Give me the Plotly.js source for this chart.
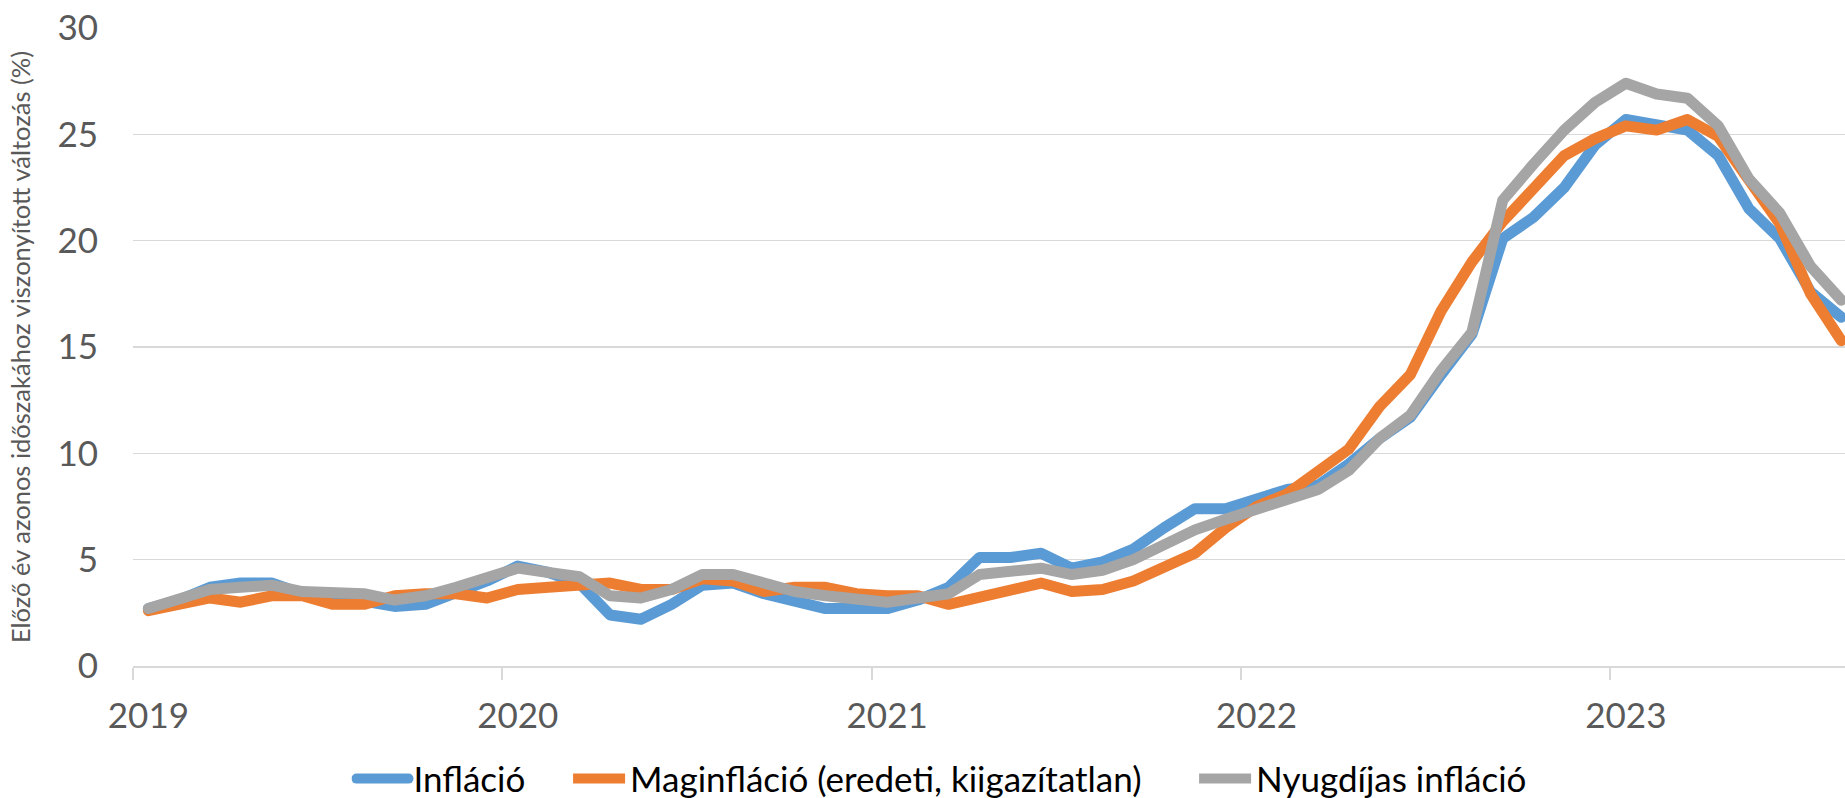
<!DOCTYPE html>
<html>
<head>
<meta charset="utf-8">
<script src="https://cdn.plot.ly/plotly-3.0.1.min.js"></script>
<style>
  html, body { margin: 0; padding: 0; background: #ffffff; }
  #chart { width: 1845px; height: 798px; }
  .scatterlayer .js-line { stroke-linejoin: round; stroke-linecap: round; }
  .legend .js-line { stroke-linecap: round; }
</style>
</head>
<body>
<div id="chart"></div>
<script>
// Monthly data, January 2019 – August 2023 (year-on-year change, %)
const years = ['2019', '2020', '2021', '2022', '2023'];

const inflacio = [
  2.7, 3.1, 3.7, 3.9, 3.9, 3.4, 3.3, 3.1, 2.8, 2.9, 3.4, 4.0,
  4.7, 4.4, 3.9, 2.4, 2.2, 2.9, 3.8, 3.9, 3.4, 3.0, 2.7, 2.7,
  2.7, 3.1, 3.7, 5.1, 5.1, 5.3, 4.6, 4.9, 5.5, 6.5, 7.4, 7.4,
  7.9, 8.3, 8.5, 9.5, 10.7, 11.7, 13.7, 15.6, 20.1, 21.1, 22.5, 24.5,
  25.7, 25.4, 25.2, 24.0, 21.5, 20.1, 17.6, 16.4
];

const maginflacio = [
  2.6, 2.9, 3.2, 3.0, 3.3, 3.3, 2.9, 2.9, 3.3, 3.4, 3.4, 3.2,
  3.6, 3.7, 3.8, 3.9, 3.6, 3.6, 4.1, 4.0, 3.5, 3.7, 3.7, 3.4,
  3.3, 3.3, 2.9, 3.2, 3.6, 3.9, 3.5, 3.6, 4.0, 4.7, 5.3, 6.5,
  7.5, 8.1, 9.2, 10.2, 12.2, 13.7, 16.7, 19.0, 20.9, 22.4, 24.0, 24.8,
  25.4, 25.2, 25.7, 24.9, 22.8, 20.8, 17.5, 15.3
];

const nyugdijas = [
  2.7, 3.2, 3.6, 3.7, 3.8, 3.5, 3.5, 3.4, 3.1, 3.3, 3.7, 4.1,
  4.6, 4.4, 4.2, 3.3, 3.2, 3.6, 4.3, 4.3, 3.9, 3.5, 3.3, 3.1,
  3.0, 3.2, 3.4, 4.3, 4.4, 4.6, 4.3, 4.5, 5.0, 5.7, 6.4, 6.9,
  7.4, 7.8, 8.3, 9.2, 10.7, 11.8, 13.9, 15.7, 21.9, 23.6, 25.2, 26.5,
  27.4, 26.9, 26.7, 25.4, 22.9, 21.3, 18.8, 17.2
];

const seriesNames = ['Infláció', 'Maginfláció (eredeti, kiigazítatlan)', 'Nyugdíjas infláció'];
const seriesColors = ['#5B9BD5', '#ED7D31', '#A5A5A5'];
const yTitle = 'Előző év azonos időszakához viszonyított változás (%)';

// month index on the x axis; each month sits in the middle of its slot
const monthIndex = inflacio.map((_, i) => i);
const yearLabelPos = years.map((_, k) => 12 * k);
const yearBoundaryPos = years.map((_, k) => 12 * k - 0.5);

const FONT = 'Lato, "Open Sans", "Noto Sans", sans-serif';
const seriesValues = [inflacio, maginflacio, nyugdijas];
const legendIds = ['legend', 'legend2', 'legend3'];
const legendX = [0.1905, 0.3079, 0.6472];

const traces = seriesValues.map((vals, s) => ({
  type: 'scatter',
  mode: 'lines',
  name: seriesNames[s],
  legend: legendIds[s],
  x: monthIndex,
  y: vals,
  line: { color: seriesColors[s], width: 11 },
  hoverinfo: 'skip'
}));

function legendBox(xPos) {
  return {
    orientation: 'h',
    xref: 'container',
    yref: 'container',
    x: xPos,
    xanchor: 'left',
    y: 0.024,
    yanchor: 'middle',
    font: { family: FONT, size: 35, color: '#000000' },
    itemwidth: 52,
    bgcolor: 'rgba(0,0,0,0)',
    borderwidth: 0
  };
}

const layout = {
  width: 1845,
  height: 798,
  paper_bgcolor: '#ffffff',
  plot_bgcolor: '#ffffff',
  margin: { l: 133, r: 0, t: 28, b: 132, pad: 0, autoexpand: false },
  font: { family: FONT, color: '#595959', size: 35 },
  showlegend: true,
  legend: legendBox(legendX[0]),
  legend2: legendBox(legendX[1]),
  legend3: legendBox(legendX[2]),
  xaxis: {
    range: [-0.5, 55.12],
    tickmode: 'array',
    tickvals: yearLabelPos,
    ticktext: years,
    ticks: 'outside',
    ticklen: 18,
    tickcolor: 'rgba(0,0,0,0)',
    tickfont: { family: FONT, size: 35, color: '#595959' },
    showgrid: false,
    zeroline: false,
    showline: true,
    linecolor: '#D9D9D9',
    linewidth: 2,
    minor: {
      tickmode: 'array',
      tickvals: yearBoundaryPos,
      ticks: 'outside',
      ticklen: 12,
      tickwidth: 2,
      tickcolor: '#D9D9D9',
      showgrid: false
    },
    fixedrange: true
  },
  yaxis: {
    range: [0, 30],
    tickmode: 'linear',
    tick0: 0,
    dtick: 5,
    ticks: 'outside',
    ticklen: 27,
    tickcolor: 'rgba(0,0,0,0)',
    tickfont: { family: FONT, size: 35, color: '#595959' },
    showgrid: true,
    gridcolor: '#D9D9D9',
    gridwidth: 1.5,
    zeroline: false,
    showline: false,
    title: {
      text: yTitle,
      font: { family: FONT, size: 25.5, color: '#595959' },
      standoff: 19
    },
    fixedrange: true
  }
};

Plotly.newPlot('chart', traces, layout, { staticPlot: true, displayModeBar: false });
</script>
</body>
</html>
